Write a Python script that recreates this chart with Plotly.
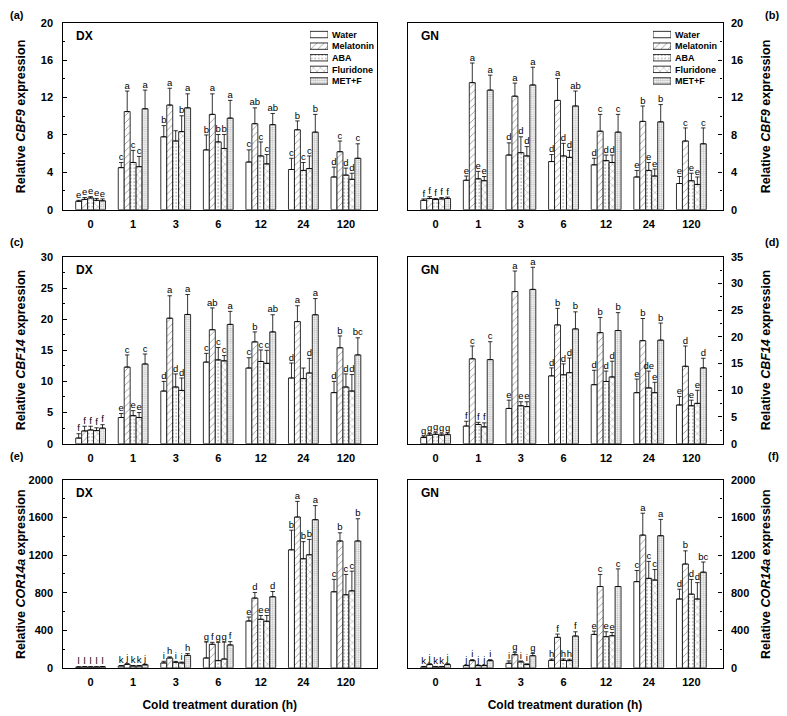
import numpy as np
import plotly.graph_objects as go

durations = ["0", "1", "3", "6", "12", "24", "120"]
treatments = ["Water", "Melatonin", "ABA", "Fluridone", "MET+F"]

# (a) DX, CBF9 -- rows: Water, Melatonin, ABA, Fluridone, MET+F
dx_cbf9_mean = [
    [0.9, 4.5, 7.8, 6.4, 5.1, 4.3, 3.5],
    [1.1, 10.5, 11.2, 10.2, 9.2, 8.55, 6.2],
    [1.25, 5.05, 7.35, 7.25, 5.75, 4.2, 3.7],
    [1.0, 4.6, 8.35, 6.55, 4.9, 4.4, 3.25],
    [0.95, 10.8, 10.9, 9.8, 9.1, 8.3, 5.5],
]
dx_cbf9_err = [
    [0.1, 0.55, 1.2, 1.6, 1.3, 1.2, 1.05],
    [0.2, 2.2, 1.8, 2.2, 1.7, 0.95, 1.15],
    [0.15, 1.3, 1.1, 0.8, 1.5, 0.85, 0.75],
    [0.2, 1.1, 1.7, 1.5, 1.0, 1.35, 0.65],
    [0.2, 2.0, 1.5, 1.9, 1.2, 1.9, 1.55],
]
dx_cbf9_letters = [
    ["e", "c", "b", "b", "c", "c", "d"],
    ["e", "a", "a", "a", "ab", "b", "c"],
    ["e", "c", "", "b", "c", "c", "d"],
    ["e", "c", "b", "b", "c", "c", "d"],
    ["e", "a", "a", "a", "ab", "b", "c"],
]

# (b) GN, CBF9
gn_cbf9_mean = [
    [1.0, 3.15, 5.85, 5.15, 4.8, 3.5, 2.8],
    [1.2, 13.6, 12.15, 11.7, 8.4, 9.45, 7.35],
    [1.1, 3.3, 6.1, 5.75, 5.25, 4.2, 3.1],
    [1.15, 3.1, 5.75, 5.6, 5.05, 3.6, 2.7],
    [1.2, 12.8, 13.35, 11.1, 8.3, 9.4, 7.05],
]
gn_cbf9_err = [
    [0.15, 0.45, 1.3, 0.75, 0.7, 0.7, 0.75],
    [0.2, 2.1, 1.4, 2.35, 1.8, 1.65, 1.4],
    [0.1, 0.8, 1.7, 1.35, 0.6, 0.85, 0.8],
    [0.15, 0.45, 1.0, 0.75, 0.8, 0.75, 0.8],
    [0.15, 1.6, 1.9, 1.6, 1.9, 1.85, 1.7],
]
gn_cbf9_letters = [
    ["f", "e", "d", "d", "d", "e", "e"],
    ["f", "a", "a", "a", "c", "b", "c"],
    ["f", "e", "d", "d", "d", "e", "e"],
    ["f", "e", "d", "d", "d", "e", "e"],
    ["f", "a", "a", "ab", "c", "b", "c"],
]

# (c) DX, CBF14
dx_cbf14_mean = [
    [0.9, 4.2, 8.45, 13.1, 12.15, 10.55, 8.2],
    [2.05, 12.3, 20.15, 18.3, 16.35, 19.6, 15.4],
    [2.2, 4.5, 9.1, 13.45, 13.2, 10.45, 9.1],
    [2.1, 4.2, 8.55, 13.3, 12.9, 11.35, 8.45],
    [2.5, 12.8, 20.75, 19.15, 17.95, 20.7, 14.25],
]
dx_cbf14_err = [
    [0.7, 0.65, 1.55, 1.4, 1.65, 2.4, 1.8],
    [0.75, 1.95, 3.6, 3.5, 1.6, 2.55, 1.9],
    [0.6, 0.8, 2.1, 2.0, 1.85, 1.7, 2.1],
    [0.45, 0.8, 2.0, 0.85, 2.1, 2.35, 2.65],
    [0.55, 1.6, 3.2, 2.1, 2.75, 2.6, 2.75],
]
dx_cbf14_letters = [
    ["f", "e", "d", "c", "c", "d", "d"],
    ["f", "c", "a", "ab", "b", "a", "b"],
    ["f", "e", "d", "c", "c", "", "d"],
    ["f", "e", "d", "c", "c", "d", "d"],
    ["f", "c", "a", "a", "ab", "a", "bc"],
]

# (d) GN, CBF14
gn_cbf14_mean = [
    [1.15, 3.3, 6.6, 12.7, 11.05, 9.55, 7.25],
    [1.6, 15.9, 28.5, 22.25, 20.8, 19.3, 14.5],
    [1.75, 3.6, 7.1, 12.9, 11.65, 10.45, 7.1],
    [1.6, 3.15, 6.95, 13.3, 12.5, 9.55, 7.55],
    [1.7, 15.75, 28.9, 21.5, 21.2, 19.4, 14.2],
]
gn_cbf14_err = [
    [0.25, 0.9, 1.55, 1.5, 2.7, 2.55, 1.6],
    [0.3, 2.4, 3.85, 3.1, 2.85, 4.15, 3.8],
    [0.3, 0.4, 0.75, 2.05, 1.95, 3.15, 1.05],
    [0.25, 0.75, 0.9, 2.75, 2.95, 1.95, 2.45],
    [0.3, 3.35, 4.15, 3.2, 3.35, 3.2, 1.8],
]
gn_cbf14_letters = [
    ["g", "f", "e", "d", "d", "e", "e"],
    ["g", "c", "a", "b", "b", "b", "d"],
    ["g", "f", "e", "d", "d", "de", "e"],
    ["g", "f", "e", "d", "d", "e", "e"],
    ["g", "c", "a", "b", "b", "b", "d"],
]

# (e) DX, COR14a
dx_cor14a_mean = [
    [8, 20, 52, 105, 499, 1257, 810],
    [10, 38, 105, 251, 743, 1606, 1351],
    [9, 20, 59, 77, 517, 1162, 778],
    [9, 20, 52, 94, 496, 1204, 820],
    [11, 32, 133, 244, 757, 1578, 1351],
]
dx_cor14a_err = [
    [3, 4, 18, 170, 42, 209, 132],
    [3, 6, 12, 21, 60, 167, 87],
    [3, 4, 10, 195, 41, 182, 217],
    [3, 4, 10, 180, 62, 164, 210],
    [3, 6, 20, 35, 56, 150, 237],
]
dx_cor14a_letters = [
    ["l", "k", "i", "g", "e", "b", "c"],
    ["l", "j", "h", "f", "d", "a", "b"],
    ["l", "k", "i", "g", "e", "b", "c"],
    ["l", "k", "i", "g", "e", "b", "c"],
    ["l", "j", "h", "f", "d", "a", "b"],
]

# (f) GN, COR14a
gn_cor14a_mean = [
    [10, 24, 49, 80, 356, 918, 733],
    [35, 77, 140, 325, 866, 1414, 1106],
    [10, 24, 63, 80, 332, 953, 785],
    [10, 24, 35, 77, 342, 935, 733],
    [35, 77, 129, 339, 866, 1407, 1019],
]
gn_cor14a_err = [
    [5, 5, 25, 14, 35, 119, 105],
    [10, 10, 22, 35, 129, 233, 140],
    [5, 5, 10, 15, 52, 181, 157],
    [5, 5, 8, 15, 35, 112, 175],
    [10, 10, 25, 45, 188, 174, 108],
]
gn_cor14a_letters = [
    ["k", "j", "i", "h", "e", "c", "d"],
    ["j", "i", "g", "f", "c", "a", "b"],
    ["k", "j", "i", "h", "e", "c", "d"],
    ["k", "j", "i", "h", "e", "c", "d"],
    ["j", "i", "g", "f", "c", "a", "bc"],
]

# ---------------------------------------------------------------- layout
W, H = 787, 716
PAGE = 8  # default body margin of the html page
FONT = "Liberation Sans, Arial, sans-serif"


def fx(px):
    return (px - PAGE) / W


def fy(px):
    return 1 - (px - PAGE) / H


col_x = [(62.5, 377.0), (407.5, 722.5)]
row_y = [(17.0, 207.0), (255.0, 445.0), (482.0, 673.0)]

panels = [
    dict(tag="(a)", cult="DX", gene="CBF9", mean=dx_cbf9_mean, err=dx_cbf9_err,
         let=dx_cbf9_letters, ymax=20, dtick=4, row=0, col=0),
    dict(tag="(b)", cult="GN", gene="CBF9", mean=gn_cbf9_mean, err=gn_cbf9_err,
         let=gn_cbf9_letters, ymax=20, dtick=4, row=0, col=1),
    dict(tag="(c)", cult="DX", gene="CBF14", mean=dx_cbf14_mean, err=dx_cbf14_err,
         let=dx_cbf14_letters, ymax=30, dtick=5, row=1, col=0),
    dict(tag="(d)", cult="GN", gene="CBF14", mean=gn_cbf14_mean, err=gn_cbf14_err,
         let=gn_cbf14_letters, ymax=35, dtick=5, row=1, col=1),
    dict(tag="(e)", cult="DX", gene="COR14a", mean=dx_cor14a_mean, err=dx_cor14a_err,
         let=dx_cor14a_letters, ymax=2000, dtick=400, row=2, col=0),
    dict(tag="(f)", cult="GN", gene="COR14a", mean=gn_cor14a_mean, err=gn_cor14a_err,
         let=gn_cor14a_letters, ymax=2000, dtick=400, row=2, col=1),
]

styles = [
    dict(shape=""),
    dict(shape="/", fgcolor="black", bgcolor="white", size=5, solidity=0.14),
    dict(shape=".", fgcolor="#555555", bgcolor="white", size=3.5, solidity=0.18),
    dict(shape="x", fgcolor="black", bgcolor="white", size=5, solidity=0.14),
    dict(shape=".", fgcolor="#8a8a8a", bgcolor="white", size=2.2, solidity=0.5),
]

bar_w = 0.14
group_pos = np.arange(len(durations))
offsets = (np.arange(len(treatments)) - 2) * bar_w
bold = dict(family=FONT, color="black", weight="bold")

fig = go.Figure()
annotations = []
layout = {}

for i, p in enumerate(panels):
    n = i + 1
    xs = "x" if n == 1 else f"x{n}"
    ys = "y" if n == 1 else f"y{n}"
    for k, name in enumerate(treatments):
        xpos = group_pos + offsets[k]
        mean = np.array(p["mean"][k], dtype=float)
        err = np.array(p["err"][k], dtype=float)
        fig.add_trace(go.Bar(
            x=xpos, y=mean, width=bar_w, name=name,
            xaxis=xs, yaxis=ys,
            marker=dict(color="white", line=dict(color="black", width=0.8),
                        pattern=styles[k]),
            error_y=dict(type="data", symmetric=False, array=err,
                         arrayminus=np.zeros(len(err)), color="black",
                         thickness=0.8, width=2.2),
            showlegend=False, hoverinfo="x+y",
        ))
        fig.add_trace(go.Scatter(
            x=xpos, y=mean + err, text=p["let"][k], mode="text",
            textposition="top center", xaxis=xs, yaxis=ys,
            textfont=dict(family=FONT, size=9.5, color="black"),
            showlegend=False, hoverinfo="skip",
        ))

    x0, x1 = col_x[p["col"]]
    y0, y1 = row_y[p["row"]]
    right = p["col"] == 1
    xkey = "xaxis" if n == 1 else f"xaxis{n}"
    ykey = "yaxis" if n == 1 else f"yaxis{n}"
    xa = dict(
        domain=[fx(x0), fx(x1)], range=[-0.66, 6.73], anchor=ys,
        tickmode="array", tickvals=list(group_pos), ticktext=durations,
        ticks="", showline=True, mirror=True, linecolor="black", linewidth=1.4,
        showgrid=False, zeroline=False, ticklabelstandoff=4,
        tickfont=dict(size=11, **bold),
    )
    if p["row"] == 2:
        xa["title"] = dict(text="Cold treatment duration (h)", standoff=13,
                           font=dict(size=12, **bold))
    ya = dict(
        domain=[fy(y1), fy(y0)], range=[0, p["ymax"]], anchor=xs,
        side="right" if right else "left",
        tick0=0, dtick=p["dtick"], ticks="inside", ticklen=4, tickwidth=1,
        tickcolor="black",
        minor=dict(ticks="inside", ticklen=2.5, dtick=p["dtick"] / 2, tickcolor="black"),
        showline=True, mirror=True, linecolor="black", linewidth=1.4,
        showgrid=False, zeroline=False, ticklabelstandoff=5 if right else 6,
        tickfont=dict(size=11, **bold),
    )
    layout[xkey] = xa
    layout[ykey] = ya

    # rotated y-axis title
    annotations.append(dict(
        text=f"Relative <i>{p['gene']}</i> expression", textangle=-90,
        xref="paper", yref="paper", x=fx(766 if right else 21), y=fy((y0 + y1) / 2),
        xanchor="center", yanchor="middle", showarrow=False,
        font=dict(size=12.5, **bold),
    ))
    annotations.append(dict(
        text=p["cult"], xref="paper", yref="paper",
        x=fx(x0 + 11), y=fy(y0 + 13), xanchor="left", yanchor="middle",
        showarrow=False, font=dict(size=12, **bold),
    ))
    tag_y = [9, 240, 458][p["row"]]
    annotations.append(dict(
        text=p["tag"], xref="paper", yref="paper",
        x=fx(781) if right else 0, y=fy(tag_y),
        xanchor="right" if right else "left", yanchor="middle",
        showarrow=False, font=dict(size=11, **bold),
    ))

# legends of panels (a) and (b): patterned swatches with names on the right
for j, (lx0, lx1) in enumerate([(310, 328), (653, 671)]):
    n = 7 + j
    fig.add_trace(go.Bar(
        x=np.ones(len(treatments)), y=treatments, orientation="h", width=0.55,
        xaxis=f"x{n}", yaxis=f"y{n}", showlegend=False, hoverinfo="skip",
        marker=dict(color="white", line=dict(color="black", width=0.8),
                    pattern=dict(shape=[s["shape"] for s in styles],
                                 fgcolor=[s.get("fgcolor", "black") for s in styles],
                                 bgcolor="white",
                                 size=[s.get("size", 5) for s in styles],
                                 solidity=[s.get("solidity", 0.2) for s in styles])),
    ))
    layout[f"xaxis{n}"] = dict(domain=[fx(lx0), fx(lx1)], range=[0, 1], anchor=f"y{n}",
                               visible=False, fixedrange=True)
    layout[f"yaxis{n}"] = dict(domain=[fy(82), fy(23)], anchor=f"x{n}", side="right",
                               categoryorder="array", categoryarray=treatments,
                               autorange="reversed", showgrid=False, zeroline=False,
                               showline=False, ticks="", ticklabelstandoff=3,
                               tickfont=dict(size=9, **bold), fixedrange=True)

fig.update_layout(
    width=W, height=H, margin=dict(l=0, r=0, t=0, b=0),
    paper_bgcolor="white", plot_bgcolor="rgba(0,0,0,0)",
    barmode="overlay", annotations=annotations, showlegend=False,
    font=dict(family=FONT, color="black"),
    **layout,
)

fig.write_html("out.html")
